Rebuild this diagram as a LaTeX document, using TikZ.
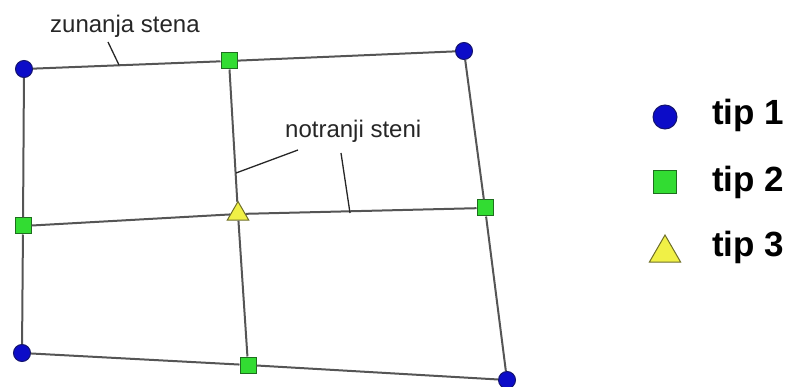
\documentclass[tikz,border=0pt]{standalone}
\usepackage{fontspec}
\setmainfont{Liberation Sans}
\usetikzlibrary{shapes.geometric,positioning}

\definecolor{tipblue}{RGB}{12,12,200}
\definecolor{tipblueline}{RGB}{20,20,110}
\definecolor{tipgreen}{RGB}{50,220,50}
\definecolor{tipgreenline}{RGB}{30,110,30}
\definecolor{tipyellow}{RGB}{240,240,70}
\definecolor{tipyellowline}{RGB}{110,110,40}
\definecolor{wall}{RGB}{85,85,85}

\begin{document}
\begin{tikzpicture}[x=1pt, y=-1pt]
    \tikzstyle{tipa} = [circle, draw=tipblueline, fill=tipblue, line width=1pt, inner sep=0pt, minimum size=17pt]
    \tikzstyle{tipb} = [rectangle, draw=tipgreenline, fill=tipgreen, line width=1pt, inner sep=0pt, minimum size=16pt]
    \tikzstyle{tipc} = [regular polygon, regular polygon sides=3, draw=tipyellowline, fill=tipyellow, line width=1pt, inner sep=0pt, minimum size=25pt]
    \tikzstyle{wallline} = [draw=wall, line width=2pt]
    \tikzstyle{leader} = [draw=black!85, line width=1.3pt]
    \tikzstyle{label} = [anchor=base west, inner sep=0pt, text=black!85, font=\fontsize{24}{28}\selectfont]
    \tikzstyle{legend} = [anchor=base west, inner sep=0pt, font=\fontsize{35}{40}\selectfont\bfseries]

    \useasboundingbox (0,0) rectangle (797,387);

    % nodes of the plan
    \node [tipa] (tl) at (24,69) {};
    \node [tipb] (tm) at (229,61) {};
    \node [tipa] (tr) at (464,51) {};
    \node [tipb] (ml) at (23,226) {};
    \node [tipc] (c) at (238,214) {};
    \node [tipb] (mr) at (485,208) {};
    \node [tipa] (bl) at (22,353) {};
    \node [tipb] (bm) at (248,365) {};
    \node [tipa] (br) at (507,380) {};

    % walls
    \path [wallline] (tl) -- (tm) -- (tr);
    \path [wallline] (ml) -- (c) -- (mr);
    \path [wallline] (bl) -- (bm) -- (br);
    \path [wallline] (tl) -- (ml) -- (bl);
    \path [wallline] (tm) -- (c) -- (bm);
    \path [wallline] (tr) -- (mr) -- (br);

    % labels
    \node [label] (outer) at (50,33) {zunanja stena};
    \node [label] (inner) at (285,138) {notranji steni};
    \coordinate (outerend) at (119,65);
    \coordinate (innerenda) at (236,173);
    \coordinate (innerendb) at (350,213);
    \path [leader] (108,42) -- (outerend);
    \path [leader] (298,150) -- (innerenda);
    \path [leader] (341,153) -- (innerendb);

    % legend
    \node [tipa, minimum size=24pt] (lega) at (665,117) {};
    \node [tipb, minimum size=23pt] (legb) at (665,182) {};
    \node [tipc, minimum size=36pt] (legc) at (665,253) {};
    \node [legend] (texta) at (712,125) {tip 1};
    \node [legend] (textb) at (712,192) {tip 2};
    \node [legend] (textc) at (712,257) {tip 3};
\end{tikzpicture}
\end{document}
